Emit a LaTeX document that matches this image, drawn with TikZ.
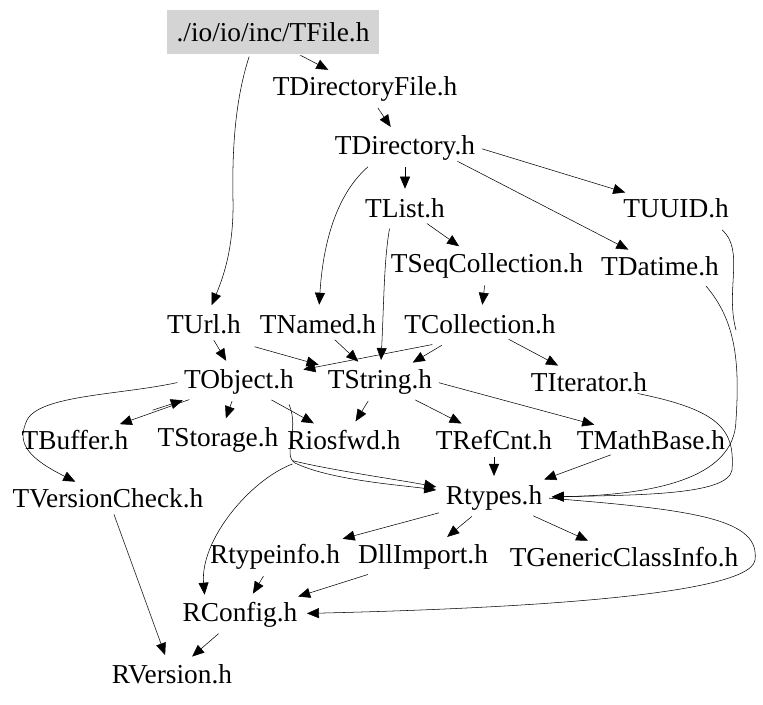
\documentclass[tikz,border=0pt]{standalone}
\usepackage{fontspec}
\setmainfont{Liberation Serif}
\usetikzlibrary{arrows.meta}
\begin{document}
\begin{tikzpicture}[x=0.75pt,y=-0.75pt,
  n/.style={font=\fontsize{20.5}{23}\selectfont,inner sep=3pt},
  e/.style={-{Triangle[length=9pt,width=7.5pt]},line width=0.4pt,shorten >=4pt,shorten <=2pt}]
\useasboundingbox (0,0) rectangle (763,704);
\node[n,fill=black!17,minimum width=159pt,minimum height=33pt] (f) at (273,32) {./io/io/inc/TFile.h};
\node[n] (df) at (365,89) {TDirectoryFile.h};
\node[n] (d) at (405,148) {TDirectory.h};
\node[n] (l) at (405,208) {TList.h};
\node[n] (uu) at (676,208) {TUUID.h};
\node[n] (sc) at (487,266) {TSeqCollection.h};
\node[n] (dt) at (660,266) {TDatime.h};
\node[n] (u) at (204,324) {TUrl.h};
\node[n] (nm) at (318,324) {TNamed.h};
\node[n] (c) at (480,324) {TCollection.h};
\node[n] (o) at (239,382) {TObject.h};
\node[n] (s) at (380,382) {TString.h};
\node[n] (it) at (589,382) {TIterator.h};
\node[n] (b) at (75,440) {TBuffer.h};
\node[n] (st) at (218,440) {TStorage.h};
\node[n] (io) at (344,440) {Riosfwd.h};
\node[n] (rc) at (494,440) {TRefCnt.h};
\node[n] (mb) at (651,440) {TMathBase.h};
\node[n] (vc) at (108,498) {TVersionCheck.h};
\node[n] (rt) at (494,498) {Rtypes.h};
\node[n] (ti) at (275,557) {Rtypeinfo.h};
\node[n] (dl) at (423,557) {DllImport.h};
\node[n] (gc) at (624,557) {TGenericClassInfo.h};
\node[n] (cf) at (240,615) {RConfig.h};
\node[n] (rv) at (172,674) {RVersion.h};
\coordinate (j) at (295,463);

\draw[e] (298,54) -- (df);
\draw[e] (250,54) .. controls (235,100) and (232,150) .. (233,200) .. controls (234,250) and (222,280) .. (u);
\draw[e] (df) -- (d);
\draw[e] (d) -- (l);
\draw[e] (d.east) -- (uu);
\draw[e] (455,160) -- (dt);
\draw[e] (370,165) .. controls (330,200) and (322,260) .. (nm);
\draw[e] (l) -- (sc);
\draw[e] (390,226) .. controls (384,260) and (384,300) .. (s);
\draw[e] (sc) -- (c);
\draw[e] (435,344) -- (o);
\draw[e] (444,344) -- (s);
\draw[e] (c) -- (it);
\draw[e] (u) -- (o);
\draw[e] (252,346) -- (s);
\draw[e] (nm) -- (s);
\draw[e] (o) -- (b);
\draw[e] (150,411) -- (o);
\draw[e] (o) -- (st);
\draw[e] (o) -- (io);
\draw[e] (o.west) .. controls (120,395) and (40,395) .. (27,420) .. controls (18,440) and (22,455) .. (vc);
\draw[e] (288,402) .. controls (300,430) and (282,455) .. (j) .. controls (330,480) and (400,485) .. (rt);
\draw[e] (290,460) .. controls (330,470) and (400,480) .. (rt);
\draw[e] (j) .. controls (250,480) and (200,540) .. (205,600);
\draw[e] (s) -- (io);
\draw[e] (s) -- (rc);
\draw[e] (s.east) -- (mb);
\draw[e] (rc) -- (rt);
\draw[e] (mb) -- (rt);
\draw[e] (635,393) .. controls (720,410) and (735,430) .. (732,470) .. controls (728,495) and (640,495) .. (rt);
\draw[e,shorten <=0pt] (706,286) .. controls (735,320) and (740,360) .. (736,420) .. controls (735,480) and (650,495) .. (rt);
\draw[shorten <=2pt] (720,228) .. controls (745,250) and (725,290) .. (736,330);
\draw[e] (rt) -- (ti);
\draw[e] (rt) -- (dl);
\draw[e] (rt) -- (gc);
\draw[e] (rt.east) .. controls (700,510) and (760,520) .. (755,560) .. controls (750,600) and (450,610) .. (cf);
\draw[e] (ti) -- (cf);
\draw[e] (dl) -- (cf);
\draw[e] (vc) -- (rv);
\draw[e] (cf) -- (rv);
\end{tikzpicture}
\end{document}
